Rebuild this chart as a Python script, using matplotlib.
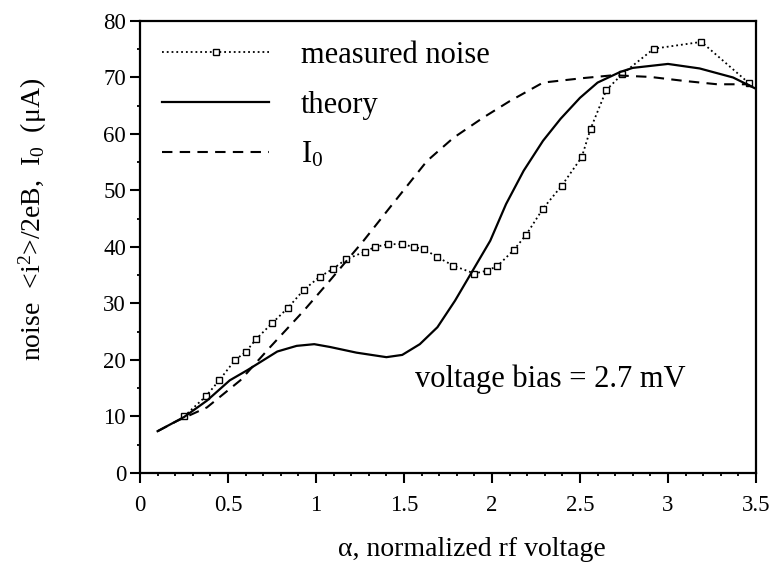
import matplotlib
matplotlib.use("Agg")
import matplotlib.pyplot as plt
from matplotlib.ticker import MultipleLocator

plt.rcParams["font.family"] = ["Liberation Serif", "DejaVu Serif"]
plt.rcParams["mathtext.default"] = "regular"

# measured noise (squares, dotted)
meas_x = [0.25, 0.375, 0.45, 0.54, 0.60, 0.66, 0.75, 0.84, 0.93, 1.02, 1.095, 1.17,
          1.28, 1.335, 1.41, 1.49, 1.555, 1.615, 1.69, 1.78, 1.90, 1.97, 2.03, 2.125,
          2.195, 2.29, 2.395, 2.51, 2.56, 2.65, 2.74, 2.92, 3.19, 3.46]
meas_y = [10.0, 13.6, 16.4, 20.0, 21.4, 23.7, 26.5, 29.2, 32.4, 34.7, 36.1, 37.8,
          39.2, 40.0, 40.5, 40.5, 40.0, 39.6, 38.2, 36.7, 35.3, 35.8, 36.6, 39.5,
          42.2, 46.8, 50.8, 55.9, 60.9, 67.8, 70.6, 75.1, 76.3, 69.0]

# theory (solid)
theory_x = [0.10, 0.25, 0.38, 0.51, 0.61, 0.78, 0.89, 0.99, 1.08, 1.23, 1.40, 1.49,
            1.59, 1.69, 1.79, 1.89, 1.99, 2.08, 2.18, 2.29, 2.39, 2.50, 2.60, 2.73,
            2.80, 3.00, 3.18, 3.37, 3.50]
theory_y = [7.4, 9.9, 12.8, 16.4, 18.2, 21.5, 22.5, 22.8, 22.3, 21.3, 20.5, 20.9,
            22.8, 25.8, 30.5, 35.8, 41.1, 47.6, 53.5, 58.8, 62.7, 66.4, 69.1, 71.0,
            71.7, 72.4, 71.6, 70.0, 68.0]

# I0 (dashed)
i0_x = [0.10, 0.21, 0.38, 0.57, 0.74, 0.93, 1.08, 1.27, 1.42, 1.63, 1.78, 1.95,
        2.10, 2.29, 2.52, 2.69, 2.90, 3.09, 3.28, 3.45, 3.50]
i0_y = [7.4, 9.2, 11.6, 16.4, 22.3, 28.7, 34.1, 41.1, 47.0, 55.2, 59.3, 62.9,
        65.8, 69.1, 69.9, 70.4, 70.1, 69.4, 68.8, 68.8, 68.0]

fig = plt.figure(figsize=(7.71, 5.80), dpi=100)
ax = fig.add_axes([0.1816, 0.1845, 0.7989, 0.7793])

ax.plot(meas_x, meas_y, linestyle=":", color="black", linewidth=1.3,
        marker="s", markersize=4.5, markerfacecolor="white",
        markeredgecolor="black", markeredgewidth=1.0, label="measured noise")
ax.plot(theory_x, theory_y, linestyle="-", color="black", linewidth=1.6,
        label="theory")
ax.plot(i0_x, i0_y, linestyle=(0, (5, 3.5)), color="black", linewidth=1.5,
        label="I$_0$")

ax.set_xlim(0, 3.5)
ax.set_ylim(0, 80)
ax.xaxis.set_minor_locator(MultipleLocator(0.1))
ax.yaxis.set_major_locator(MultipleLocator(10))
ax.yaxis.set_minor_locator(MultipleLocator(5))
ax.set_xticks([0, 0.5, 1, 1.5, 2, 2.5, 3, 3.5])
ax.set_xticklabels(["0", "0.5", "1", "1.5", "2", "2.5", "3", "3.5"])

ax.tick_params(axis="both", which="major", direction="out", length=7, width=1.5,
               labelsize=16.5)
ax.tick_params(axis="x", which="major", pad=9)
ax.tick_params(axis="y", which="major", pad=3)
ax.tick_params(axis="both", which="minor", direction="out", length=2, width=1.3)
for s in ax.spines.values():
    s.set_linewidth(1.6)

ax.set_xlabel("\u03b1, normalized rf voltage", fontsize=20)
ax.xaxis.set_label_coords(0.539, -0.142)
ax.set_ylabel("noise  <i$^2$>/2eB,  I$_0$  (\u03bcA)", fontsize=20)
ax.yaxis.set_label_coords(-0.147, 0.56)

ax.text(1.56, 15.2, "voltage bias = 2.7 mV", fontsize=22, ha="left",
        va="baseline")

ax.legend(loc="upper left", bbox_to_anchor=(0.036, 0.956), frameon=False,
          fontsize=22, handlelength=3.5, handletextpad=1.05, labelspacing=0.68,
          borderaxespad=0, borderpad=0, numpoints=1)

fig.savefig("out.png", dpi=100)
